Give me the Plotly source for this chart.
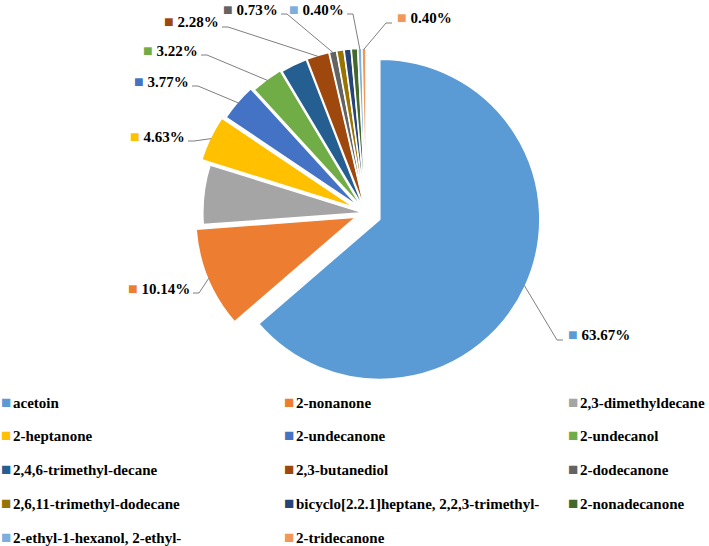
import math
import plotly.graph_objects as go

# ---------------- data ----------------
labels = [
    "acetoin", "2-nonanone", "2,3-dimethyldecane", "2-heptanone", "2-undecanone",
    "2-undecanol", "2,4,6-trimethyl-decane", "2,3-butanediol", "2-dodecanone",
    "2,6,11-trimethyl-dodecane", "bicyclo[2.2.1]heptane, 2,2,3-trimethyl-",
    "2-nonadecanone", "2-ethyl-1-hexanol, 2-ethyl-", "2-tridecanone",
]
values = [63.67, 10.14, 6.00, 4.63, 3.77, 3.22, 2.70, 2.28, 0.73, 0.72, 0.70, 0.64, 0.40, 0.40]
value_labels = ["63.67%", "10.14%", "", "4.63%", "3.77%", "3.22%", "", "2.28%", "0.73%",
                "", "", "", "0.40%", "0.40%"]
colors = ["#5B9BD5", "#ED7D31", "#A5A5A5", "#FFC000", "#4472C4", "#70AD47", "#255E91",
          "#9E480E", "#636363", "#997300", "#264478", "#43682B", "#7CAFDD", "#F1975A"]

# ---------------- styling / layout ----------------
pulls = [0.095, 0.07, 0.02, 0.08, 0.06, 0.04, 0.03, 0.03, 0.03, 0.03, 0.03, 0.03, 0.03, 0.03]
W, H = 709, 546
CX, CY, R = 366, 213, 160          # pie centre and radius in pixels
FONT = "Liberation Serif"

# value-label text anchor (pixel x, pixel y, side of the text relative to its leader)
label_place = {
    0: (566, 334, "left"),
    1: (192, 288, "right"),
    3: (187, 136, "right"),
    4: (191, 81, "right"),
    5: (200, 50, "right"),
    7: (221, 22, "right"),
    8: (280, 9, "right"),
    12: (346, 9, "right"),
    13: (395, 17, "left"),
}

# legend grid (pixels)
legend_cols = [0, 283, 567]
legend_row0, legend_row_step = 402, 33.8

max_pull = max(pulls)
side = 2 * R * (1 + max_pull)
dom_x = [(CX - side / 2) / W, (CX + side / 2) / W]
dom_y = [1 - (CY + side / 2) / H, 1 - (CY - side / 2) / H]


def px(x, y):
    return x / W, 1 - y / H


fig = go.Figure()
fig.add_trace(go.Pie(
    labels=labels,
    values=values,
    sort=False,
    direction="clockwise",
    rotation=0,
    pull=pulls,
    marker=dict(colors=colors, line=dict(color="white", width=1.5)),
    textinfo="none",
    hoverinfo="label+percent",
    domain=dict(x=dom_x, y=dom_y),
    showlegend=False,
))

# leader lines and value labels, computed from slice angles
total = sum(values)
cum = 0.0
shapes, annotations = [], []
mids = []
for v in values:
    mids.append(2 * math.pi * (cum + v / 2) / total)
    cum += v

for i, (x, y, sd) in label_place.items():
    th = mids[i]
    dx, dy = math.sin(th), -math.cos(th)
    rr = R * (1 + pulls[i]) - 1
    tx, ty = CX + rr * dx, CY + rr * dy
    if sd == "right":
        e1, e2 = (x + 7, y + 5), (x + 1, y + 5)
        xa = "right"
    else:
        e1, e2 = (x - 9, y + 6), (x - 3, y + 6)
        xa = "left"
    p0, p1, p2 = px(tx, ty), px(*e1), px(*e2)
    shapes.append(dict(
        type="path", xref="paper", yref="paper",
        path=f"M{p0[0]},{p0[1]} L{p1[0]},{p1[1]} L{p2[0]},{p2[1]}",
        line=dict(color="#7F7F7F", width=1),
    ))
    ax, ay = px(x, y)
    annotations.append(dict(
        x=ax, y=ay, xref="paper", yref="paper", xanchor=xa, yanchor="middle",
        showarrow=False,
        text=f"<b><span style='color:{colors[i]};font-size:16px'>■</span> {value_labels[i]}</b>",
        font=dict(family=FONT, size=15, color="#000000"),
    ))

# legend: three columns, row by row
for k, (lab, col) in enumerate(zip(labels, colors)):
    r, c = divmod(k, 3)
    lx, ly = px(legend_cols[c], legend_row0 + r * legend_row_step)
    annotations.append(dict(
        x=lx, y=ly, xref="paper", yref="paper", xanchor="left", yanchor="middle",
        showarrow=False, borderpad=0,
        text=(f"<span style='color:{col};font-size:17px'>■</span>"
              f"<span style='font-size:7px'> </span><b>{lab}</b>"),
        font=dict(family=FONT, size=15, color="#000000"),
    ))

fig.update_layout(
    width=W, height=H,
    margin=dict(l=0, r=0, t=0, b=0, autoexpand=False),
    paper_bgcolor="white", plot_bgcolor="white",
    shapes=shapes, annotations=annotations,
    showlegend=False,
)

fig.write_html("out.html", config={"displayModeBar": False},
               post_script="document.body.style.margin='0px';")
